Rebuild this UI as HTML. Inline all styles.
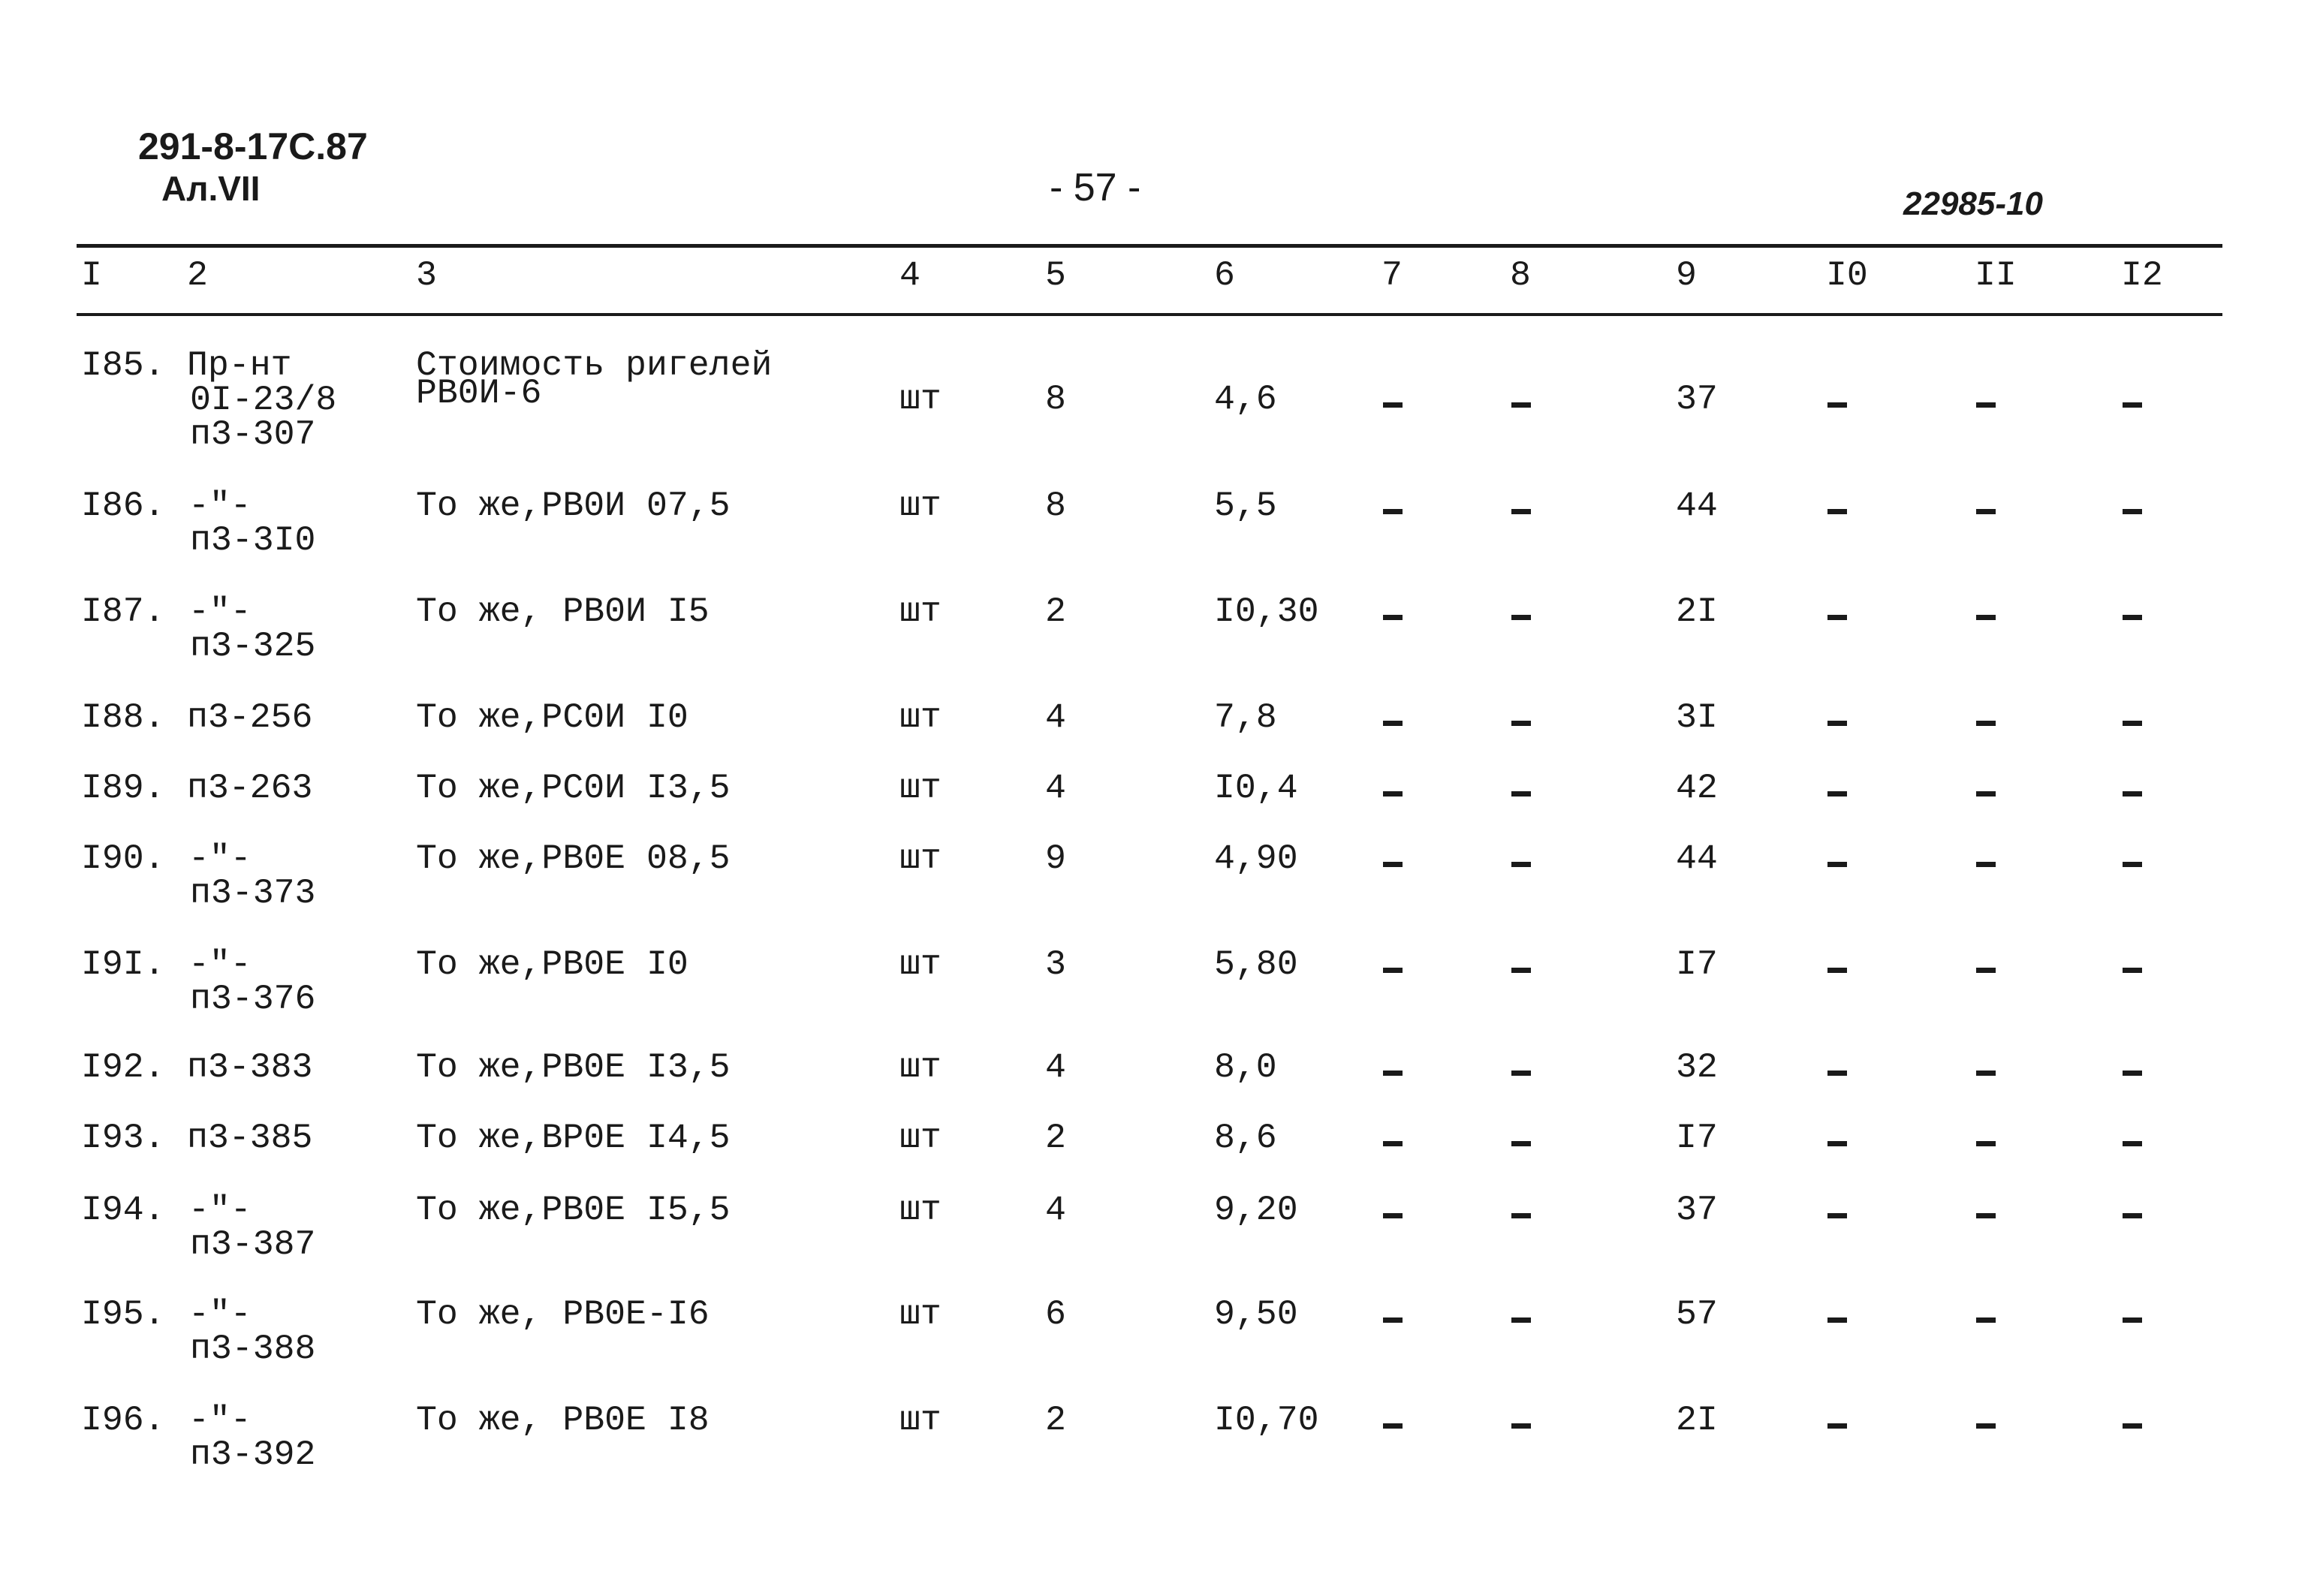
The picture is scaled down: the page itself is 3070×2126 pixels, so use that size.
<!DOCTYPE html>
<html><head><meta charset="utf-8">
<style>
body{margin:0;background:#fff;}
#p{position:relative;width:3070px;height:2126px;overflow:hidden;background:#fff;font-family:"Liberation Mono","DejaVu Sans Mono",monospace;color:#1a1a1a;}
.t{position:absolute;font-size:46.5px;line-height:1;white-space:pre;}
.d{position:absolute;width:26px;height:7px;background:#1a1a1a;}
.l{position:absolute;left:102px;width:2858px;background:#1a1a1a;}
</style></head><body><div id="p">
<div class="t" style="left:184px;top:170px;font-family:'Liberation Sans',sans-serif;font-weight:bold;font-size:50px;">291-8-17С.87</div>
<div class="t" style="left:215px;top:228px;font-family:'Liberation Sans',sans-serif;font-weight:bold;font-size:46px;">Ал.VII</div>
<div class="t" style="left:1398px;top:224px;font-family:'Liberation Sans',sans-serif;font-size:52px;">- 57 -</div>
<div class="t" style="left:2535px;top:250px;font-family:'Liberation Sans',sans-serif;font-style:italic;font-weight:bold;font-size:44px;">22985-10</div>
<div class="l" style="top:325px;height:5px;"></div>
<div class="l" style="top:417px;height:4px;"></div>
</div>
<script>
var p=document.getElementById('p');
var cols=[108,249,554,1198,1392,1617,1840,2011,2232,2432,2630,2825];
function T(x,y,s){var e=document.createElement('div');e.className='t';e.style.left=x+'px';e.style.top=(y-24)+'px';e.textContent=s;p.appendChild(e);}
function D(x,y){var e=document.createElement('div');e.className='d';e.style.left=x+'px';e.style.top=(y-3)+'px';p.appendChild(e);}
var hdr=['I','2','3','4','5','6','7','8','9','I0','II','I2'];
hdr.forEach(function(h,i){T(cols[i],368,h);});
var rows=[
[488,'I85.',['Пр-нт','0I-23/8','п3-307'],['Стоимость ригелей','РВ0И-6'],'8','4,6','37',533],
[675,'I86.',['-"-','п3-3I0'],['То же,РВ0И 07,5'],'8','5,5','44',675],
[816,'I87.',['-"-','п3-325'],['То же, РВ0И I5'],'2','I0,30','2I',816],
[957,'I88.',['п3-256'],['То же,РС0И I0'],'4','7,8','3I',957],
[1051,'I89.',['п3-263'],['То же,РС0И I3,5'],'4','I0,4','42',1051],
[1145,'I90.',['-"-','п3-373'],['То же,РВ0Е 08,5'],'9','4,90','44',1145],
[1286,'I9I.',['-"-','п3-376'],['То же,РВ0Е I0'],'3','5,80','I7',1286],
[1423,'I92.',['п3-383'],['То же,РВ0Е I3,5'],'4','8,0','32',1423],
[1517,'I93.',['п3-385'],['То же,ВР0Е I4,5'],'2','8,6','I7',1517],
[1613,'I94.',['-"-','п3-387'],['То же,РВ0Е I5,5'],'4','9,20','37',1613],
[1752,'I95.',['-"-','п3-388'],['То же, РВ0Е-I6'],'6','9,50','57',1752],
[1893,'I96.',['-"-','п3-392'],['То же, РВ0Е I8'],'2','I0,70','2I',1893]];
rows.forEach(function(r){
 var y=r[0];T(cols[0],y,r[1]);
 r[2].forEach(function(s,i){var x=(i==0&&r[2].length>1&&s!='Пр-нт')?cols[1]+2:(i>0?cols[1]+4:cols[1]);T(x,y+i*46,s);});
 r[3].forEach(function(s,i){T(cols[2],y+i*37,s);});
 var ym=r[7];
 T(cols[3],ym,'шт');T(cols[4],ym,r[4]);T(cols[5],ym,r[5]);T(cols[8],ym,r[6]);
 [cols[6],cols[7],cols[9],cols[10],cols[11]].forEach(function(x){D(x+2,ym+6);});
});
</script>
</body></html>
